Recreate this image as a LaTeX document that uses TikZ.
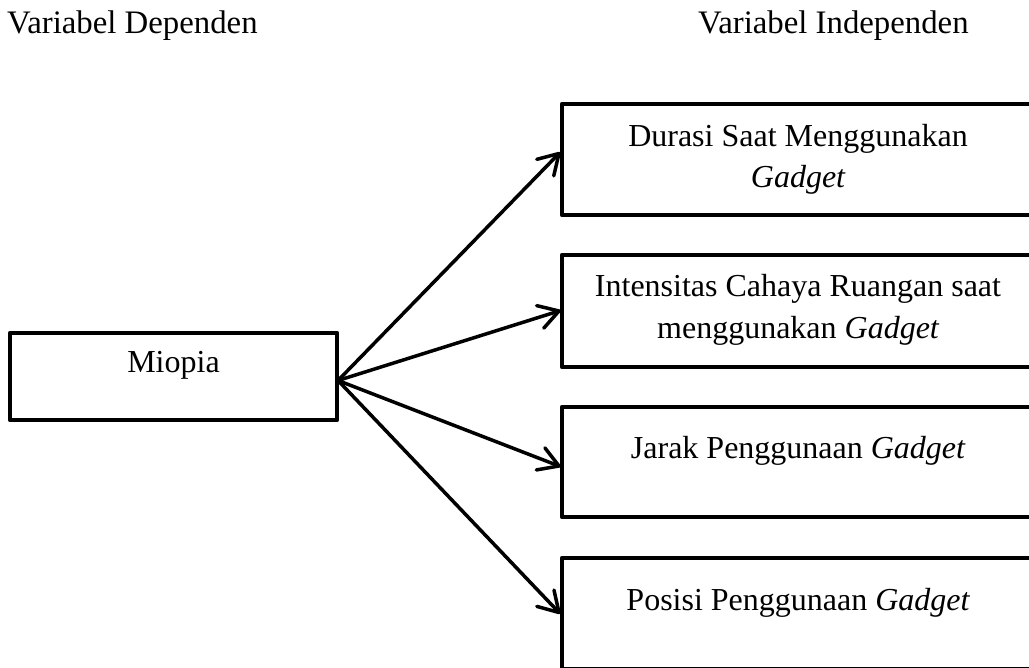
\documentclass[tikz,border=0pt]{standalone}
\usepackage{fontspec}
\setmainfont{Liberation Serif}
\usetikzlibrary{calc}
\begin{document}
\begin{tikzpicture}[x=1pt,y=-1pt,
  box/.style={draw, line width=4.5pt, line join=round, inner sep=0pt, outer sep=0pt},
  lbl/.style={anchor=base, inner sep=0pt, font=\fontsize{32}{42}\selectfont, align=center},
  head/.style={lbl, anchor=base west, font=\fontsize{32.8}{40}\selectfont},
  conn/.style={line width=3.5pt, line cap=round, line join=round}]
\useasboundingbox (0,0) rectangle (1029,668);
\clip (0,0) rectangle (1029,668);
\node[head] (tl) at (7,34) {Variabel Dependen};
\node[head] (tr) at (698,34) {Variabel Independen};
\node[box, minimum width=327pt, minimum height=87pt] (m) at (173.5,376.5) {};
\node[box, minimum width=472pt, minimum height=111pt] (b1) at (798,159.5) {};
\node[box, minimum width=472pt, minimum height=112pt] (b2) at (798,311) {};
\node[box, minimum width=472pt, minimum height=110pt] (b3) at (798,462) {};
\node[box, minimum width=472pt, minimum height=111pt] (b4) at (798,613.5) {};
\node[lbl] (tm) at (173.5,373) {Miopia};
\node[lbl] (t1a) at (798,147) {Durasi Saat Menggunakan};
\node[lbl] (t1b) at (798,188) {\itshape Gadget};
\node[lbl] (t2a) at (798,297) {Intensitas Cahaya Ruangan saat};
\node[lbl] (t2b) at (798,339) {menggunakan \itshape Gadget};
\node[lbl] (t3) at (798,458) {Jarak Penggunaan \itshape Gadget};
\node[lbl] (t4) at (798,610) {Posisi Penggunaan \itshape Gadget};
\coordinate (o) at ([xshift=1pt,yshift=-4pt]m.east);
\coordinate (p1) at ([xshift=-3pt,yshift=6pt]b1.west);
\coordinate (p2) at ([xshift=-3pt]b2.west);
\coordinate (p3) at ([xshift=-3pt,yshift=-4pt]b3.west);
\coordinate (p4) at ([xshift=-3pt,yshift=1pt]b4.west);
\foreach \p in {p1,p2,p3,p4}{
  \draw[conn] (o) -- (\p);
  \draw[conn] ($(\p)!23pt!31:(o)$) -- (\p) -- ($(\p)!23pt!-31:(o)$);
}
\end{tikzpicture}
\end{document}
